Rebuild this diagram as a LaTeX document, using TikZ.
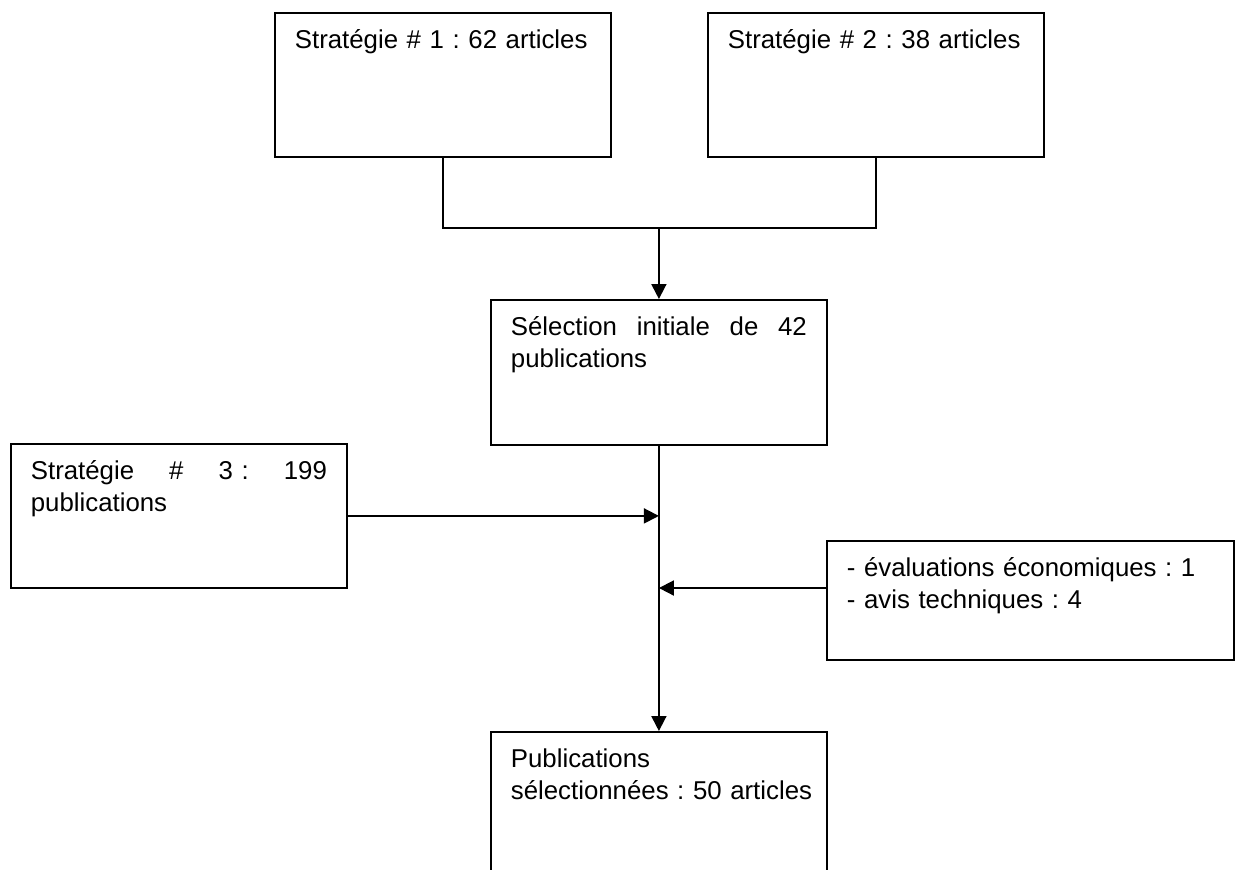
\documentclass[tikz,border=0pt]{standalone}
\usepackage{fontspec}
\setmainfont{Liberation Sans}
\usetikzlibrary{arrows.meta}
\frenchspacing
\hyphenpenalty=10000
\tikzset{
  etape/.style={draw, line width=0.9pt, anchor=north west, inner xsep=10pt, inner ysep=0pt,
    text width=148pt, align=left, text height=18pt, text depth=54pt,
    font=\fontsize{12.9pt}{15.75pt}\selectfont},
  trait/.style={line width=0.9pt},
  fleche/.style={trait, -{Triangle[length=7.5pt,width=7.5pt]}}
}
\begin{document}
\begin{tikzpicture}[x=0.5pt,y=-0.5pt]
  \clip (0,0) rectangle (1235,869);
  % les trois strategies
  \node[etape] (strat1) at (274,12) {Stratégie \# 1 : 62 articles};
  \node[etape] (strat2) at (707,12) {Stratégie \# 2 : 38 articles};
  \node[etape] (strat3) at (10,443) {Stratégie\hfill\#\hfill 3~:\hfill 199\\publications};
  % selection
  \node[etape, text depth=54.5pt] (select) at (490,299) {Sélection\hfill initiale\hfill de\hfill 42\\publications};
  \node[etape, text width=183.5pt, text depth=41.5pt] (exclu) at (826,540) {- évaluations économiques : 1\\- avis techniques : 4};
  \node[etape] (retenu) at (490,731) {Publications\\\mbox{sélectionnées : 50 articles}};

  \coordinate (jonction) at (select.north |- 0,228);
  \coordinate (retour) at (exclu.west |- 0,588);
  \draw[trait] (strat1.south) |- (jonction) -| (strat2.south);
  \draw[fleche] (jonction) -- (select.north);
  \draw[fleche] (select.south) -- (retenu.north);
  \draw[fleche] (strat3.east) -- (strat3.east -| select.south);
  \draw[fleche] (retour) -- (retour -| select.south);
\end{tikzpicture}
\end{document}
